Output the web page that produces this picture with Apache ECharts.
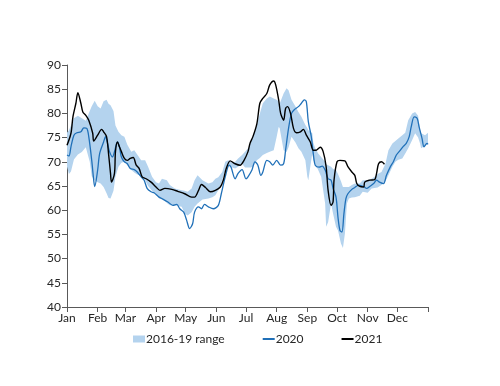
<!DOCTYPE html>
<html>
<head>
<meta charset="utf-8">
<script src="https://cdn.jsdelivr.net/npm/echarts@6/dist/echarts.min.js"></script>
<style>html,body{margin:0;padding:0;background:#fff}#c{width:500px;height:386px}</style>
</head>
<body>
<div id="c"></div>
<script>
// Month tick labels and their day-of-year positions
const monthLabels = ['Jan','Feb','Mar','Apr','May','Jun','Jul','Aug','Sep','Oct','Nov','Dec'];
const monthStarts = [0,31,59,90,120,151,181,212,243,273,304,334];
const yTicks = [40,45,50,55,60,65,70,75,80,85,90];

// 2016-19 range band (day of year, min, max)
const bandDays = [0,2,4,7,11,15,19,23,25,28,31,34,37,40,42,44,47,49,52,55,58,61,65,68,71,75,79,82,86,90,93,96,101,104,109,116,119,122,126,129,132,137,143,147,150,153,157,160,163,167,170,173,177,180,183,186,188,192,195,198,202,205,209,212,214,215,219,222,224,227,231,234,237,241,243,244,246,248,249,251,254,257,261,262,264,267,269,272,274,277,279,281,283,285,288,291,296,299,304,308,311,314,318,322,325,329,332,335,339,342,345,349,352,355,357,358,362,365];
const bandMin = [69,67.5,68,70.5,71.5,72,73,70,67,66.2,65.8,65.5,64.8,63.5,62.5,62.4,64,66.9,69,69.8,70,69.3,68.3,67.8,67.4,67.2,66.2,65,64,63.3,62.6,62.5,61.5,61,61,60.7,59.3,58.9,59.6,60.7,61.4,62.2,62.4,62.7,63.1,64.1,66.2,68.3,69.1,68.8,68.6,69,69.6,68.8,68.8,68.8,69,70.3,70.8,71.4,71.8,72.1,72.4,75.2,77.2,77,72.4,72,73,75.2,74,72.8,72.1,70.3,66.9,66.2,69,71.7,70.5,69.5,68.3,66.9,61.4,56.6,57.5,61.4,59.3,56.6,55.8,53.1,52.2,55.2,61.4,62.4,62.6,62.7,63,63.8,63.6,64.5,64.6,64.7,65.2,66,67.2,69,70,70.4,70.7,71.7,72.8,74.5,75.9,75,73.8,72.8,73.3,73.8];
const bandMax = [76,76.5,77.5,79,79.5,79,78.5,80.5,81.5,82.6,81.5,81,82.5,82.8,82,81.7,80.5,77.5,76.2,75.5,75.2,73.5,72.1,72.4,71.5,70.3,70.3,69,66.9,65.8,65.5,66.5,66.2,65.2,64.5,64.1,64,63.8,64.5,66.2,67.2,66.2,65.5,65.8,66.5,66.8,67.9,70,70.3,69.8,70,70.7,71.4,72.1,72.8,74.1,75.5,77.6,80,82.1,83.1,83.5,83.1,82.8,82.5,82,84.1,85.2,84.8,82.8,81.4,80.3,79.3,77.6,77,76.5,76.2,75.9,74,72.8,71.7,71,70,69.5,69.3,69,68.5,68.3,67.5,66,64.8,64.8,64.8,64.8,65.2,65.5,65.5,66.2,66.2,66.5,66.9,67.5,67.9,69.6,72.4,73.8,74.3,74.8,75.5,76,78.6,80,80.3,79.5,76.5,75.9,75.5,76];

// 2020
const days2020 = [0,2,4,7,10,14,17,20,22,25,27,28,31,33,37,39,41,43,46,48,51,53,55,58,61,64,68,71,75,78,81,85,88,93,96,102,107,111,114,118,121,124,127,129,133,136,139,143,148,153,156,160,164,166,170,173,177,181,183,187,190,193,196,198,202,205,208,212,216,219,221,224,227,230,234,237,240,242,244,247,249,251,255,258,261,264,267,269,272,274,276,278,280,282,284,288,291,295,300,303,306,310,313,316,320,323,327,330,333,337,340,343,346,348,351,354,356,359,361,364,365];
const vals2020 = [71.4,71.2,73.1,75.5,76.0,76.2,77.0,76.9,75.2,70.3,66.2,64.9,68.3,71.7,74.1,75.2,73.8,72.1,71.0,72.1,74.1,73.1,71.0,70.0,69.6,68.6,68.4,67.9,66.9,66.2,64.5,63.8,63.6,62.7,62.4,61.7,61.0,61.2,60.3,59.6,57.9,56.2,57.2,59.6,60.7,60.3,61.2,60.7,60.3,61.0,63.4,66.9,69.3,68.8,66.5,67.6,68.4,66.5,66.9,68.3,70.0,69.3,67.2,67.9,70.3,70.0,69.3,70.3,69.3,69.6,72.4,76.9,80.0,80.8,81.4,82.1,82.8,82.4,78.3,75.2,71.7,69.3,68.9,69.1,68.3,66.5,66.2,64.5,62.7,58.5,55.8,55.5,59.3,62.4,63.4,64.3,64.7,65.2,64.9,64.5,64.9,65.5,66.2,65.8,65.5,67.2,69.0,70.0,71.4,72.4,73.2,73.8,75.2,77.2,79.3,79.0,77.2,74.8,73.1,73.8,73.6];

// 2021
const days2021 = [0,4,6,9,11,14,16,19,22,26,27,31,35,37,40,42,44,45,48,49,51,53,55,58,61,64,67,70,73,76,80,85,90,94,99,106,112,119,126,129,133,136,140,145,150,155,158,161,165,170,175,179,183,185,188,192,195,198,202,205,209,211,214,216,219,221,223,226,229,232,236,239,242,246,249,252,256,259,262,264,267,269,270,273,276,281,284,288,291,293,296,300,301,306,311,313,315,318,321];
const vals2021 = [73.4,75.9,79.3,82.1,84.3,82.1,80.3,79.6,78.6,75.9,74.3,75.5,76.7,76.2,75.2,71.7,67.6,65.8,67.6,72.1,74.1,73.1,72.1,70.7,70.3,70.7,70.9,69.3,68.6,66.9,66.5,65.8,64.8,64.1,64.5,64.3,63.9,63.4,62.7,62.7,64.1,65.3,64.7,63.8,64.1,64.8,66.2,68.6,70.2,69.6,69.3,70.3,72.1,73.8,75.2,77.9,82.1,83.1,84.1,85.9,86.7,85.9,82.8,80.0,78.6,81.0,81.4,80.0,76.9,76.0,76.2,76.7,75.5,74.1,72.4,72.4,73.0,72.1,69.0,64.1,61.0,61.7,66.2,70.0,70.3,70.2,69.0,67.9,67.2,65.5,64.9,64.8,65.8,66.2,66.3,67.6,69.6,70.0,69.5];

const pair = (xs, ys) => xs.map((d, i) => [d, ys[i]]);
const bandData = bandDays.map((d, i) => [d, bandMin[i], bandMax[i]]);

const FONT = 'Lato';
const TXT = '#262626';
const AX = '#595959';
const BAND = '#b4d3ee';
const BLUE = '#2070b8';

const chart = echarts.init(document.getElementById('c'), null, {renderer: 'canvas'});
chart.setOption({
  animation: false,
  textStyle: {fontFamily: FONT},
  grid: {left: 67, right: 72, top: 65, bottom: 79, containLabel: false},
  xAxis: {
    type: 'value', min: 0, max: 365,
    splitLine: {show: false},
    axisLine: {show: true, onZero: false, lineStyle: {color: AX, width: 1}},
    axisTick: {show: true, length: 5, lineStyle: {color: AX}, customValues: monthStarts.concat([365])},
    axisLabel: {
      color: TXT, fontSize: 12, fontFamily: FONT, margin: 5,
      customValues: monthStarts,
      formatter: v => monthLabels[monthStarts.indexOf(Math.round(v))] || ''
    }
  },
  yAxis: {
    type: 'value', min: 40, max: 90, interval: 5,
    splitLine: {show: false},
    axisLine: {show: true, lineStyle: {color: AX, width: 1}},
    axisTick: {show: true, inside: false, length: 5, lineStyle: {color: AX}},
    axisLabel: {color: TXT, fontSize: 12, fontFamily: FONT, margin: 6}
  },
  legend: {
    bottom: 41, left: 133, padding: 0,
    itemGap: 37, itemWidth: 12, itemHeight: 7,
    textStyle: {color: TXT, fontSize: 12, fontFamily: FONT, padding: [0,0,0,-4]},
    data: [
      {name: '2016-19 range', icon: 'rect'},
      {name: '2020', itemStyle: {opacity: 0}},
      {name: '2021', itemStyle: {opacity: 0}}
    ]
  },
  series: [
    {
      name: '2016-19 range', type: 'custom', data: bandData,
      encode: {x: 0, y: [1, 2]},
      itemStyle: {color: BAND},
      z: 1, silent: true,
      renderItem: function (params, api) {
        if (params.dataIndex !== 0) return null;
        const top = bandData.map(r => api.coord([r[0], r[2]]));
        const bot = bandData.map(r => api.coord([r[0], r[1]])).reverse();
        return {type: 'polygon', shape: {points: top.concat(bot), smooth: 0}, style: {fill: BAND}};
      }
    },
    {
      name: '2020', type: 'line', data: pair(days2020, vals2020),
      symbol: 'none', smooth: 0.3, lineStyle: {color: BLUE, width: 1.3}, itemStyle: {color: BLUE}, z: 3
    },
    {
      name: '2021', type: 'line', data: pair(days2021, vals2021),
      symbol: 'none', smooth: 0.3, lineStyle: {color: '#000000', width: 1.4}, itemStyle: {color: '#000000'}, z: 4
    }
  ]
});
</script>
</body>
</html>
